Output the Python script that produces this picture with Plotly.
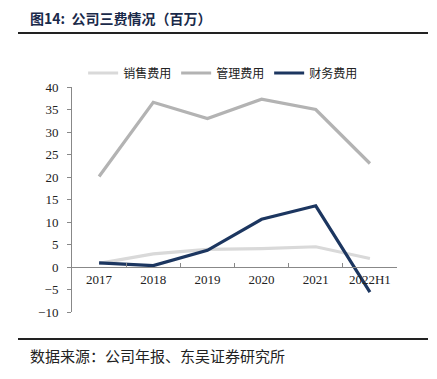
import plotly.graph_objects as go

categories = ["2017", "2018", "2019", "2020", "2021", "2022H1"]
sales_exp = [0.8, 2.9, 3.9, 4.1, 4.5, 1.9]
admin_exp = [20.1, 36.6, 33.0, 37.3, 35.0, 23.0]
fin_exp = [0.9, 0.3, 3.7, 10.6, 13.6, -5.6]
y_ticks = [-10, -5, 0, 5, 10, 15, 20, 25, 30, 35, 40]

W, H = 437, 379
L, R, T, B = 72, 40, 87, 67
pw, ph = W - L - R, H - T - B

def px(x):
    return (x - L) / pw

def py(y):
    return (H - B - y) / ph

cjk = "Noto Sans CJK SC"
serif = "Liberation Serif, Times New Roman, serif"

fig = go.Figure()
for name, vals, col in [("销售费用", sales_exp, "#d9d9d9"),
                        ("管理费用", admin_exp, "#b3b3b3"),
                        ("财务费用", fin_exp, "#1c3660")]:
    fig.add_trace(go.Scatter(x=categories, y=vals, name=name, mode="lines",
                             line=dict(color=col, width=3.2)))

fig.update_layout(
    width=W, height=H,
    margin=dict(l=L, r=R, t=T, b=B),
    paper_bgcolor="white", plot_bgcolor="white",
    showlegend=True,
    legend=dict(orientation="h", x=0.465, xanchor="center", y=py(73), yanchor="middle",
                font=dict(family=cjk, size=12, color="#222"),
                itemwidth=30, tracegroupgap=0, bgcolor="rgba(0,0,0,0)"),
    xaxis=dict(type="category", anchor="free", position=py(267), showgrid=False,
               showline=True, linecolor="#888", linewidth=1,
               ticks="inside", ticklen=4, tickcolor="#888", tickson="boundaries",
               tickfont=dict(family=serif, size=13, color="#222"),
               range=[-0.5, 5.5], zeroline=False),
    yaxis=dict(range=[-10, 40], tickvals=y_ticks, showgrid=False, zeroline=False,
               showline=True, linecolor="#888", linewidth=1,
               ticks="outside", ticklen=4, tickcolor="#888", ticklabelstandoff=6,
               tickfont=dict(family=serif, size=13, color="#222")),
)

fig.add_annotation(text="<b>图14:  公司三费情况（百万）</b>", xref="paper", yref="paper",
                   x=px(28), y=py(18), xanchor="left", yanchor="middle", showarrow=False,
                   font=dict(family=cjk, size=14, color="#1a2a4a"))
fig.add_shape(type="line", xref="paper", yref="paper", x0=px(18), x1=px(428),
              y0=py(33), y1=py(33), line=dict(color="#222", width=2))
fig.add_shape(type="line", xref="paper", yref="paper", x0=px(18), x1=px(428),
              y0=py(339), y1=py(339), line=dict(color="#222", width=2))
fig.add_annotation(text="数据来源：公司年报、东吴证券研究所", xref="paper", yref="paper",
                   x=px(28), y=py(355), xanchor="left", yanchor="middle", showarrow=False,
                   font=dict(family=cjk, size=15, color="#222"))

fig.write_html("out.html", config={"displayModeBar": False},
               post_script="document.body.style.margin='0';")
